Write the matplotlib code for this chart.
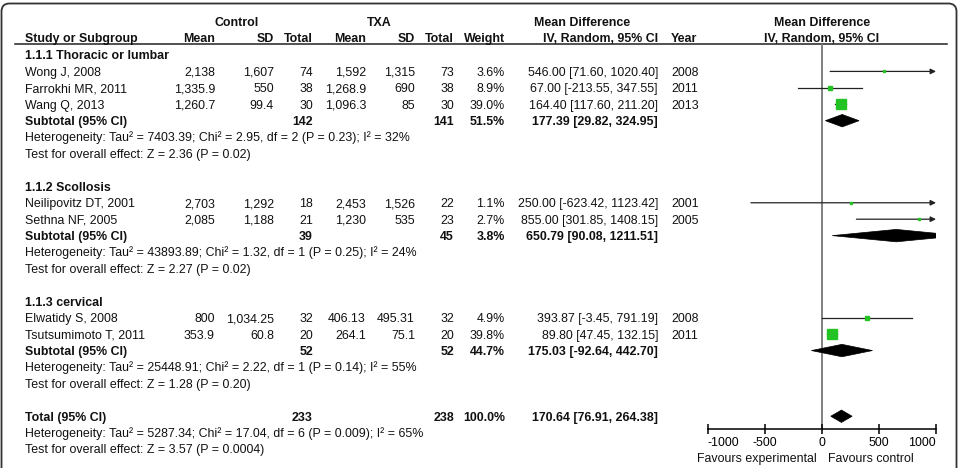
import numpy as np
import matplotlib
matplotlib.use("Agg")
import matplotlib.pyplot as plt
from matplotlib.patches import FancyBboxPatch, Polygon

plt.rcParams['font.family'] = ['Liberation Sans', 'DejaVu Sans']
FS = 8.9

# study level data
group_names = ["1.1.1 Thoracic or lumbar", "1.1.2 Scollosis", "1.1.3 cervical"]
group_of = [0, 0, 0, 1, 1, 2, 2]
study_names = ["Wong J, 2008", "Farrokhi MR, 2011", "Wang Q, 2013",
               "Neilipovitz DT, 2001", "Sethna NF, 2005",
               "Elwatidy S, 2008", "Tsutsumimoto T, 2011"]
ctrl_mean = ["2,138", "1,335.9", "1,260.7", "2,703", "2,085", "800", "353.9"]
ctrl_sd = ["1,607", "550", "99.4", "1,292", "1,188", "1,034.25", "60.8"]
ctrl_n = [74, 38, 30, 18, 21, 32, 20]
txa_mean = ["1,592", "1,268.9", "1,096.3", "2,453", "1,230", "406.13", "264.1"]
txa_sd = ["1,315", "690", "85", "1,526", "535", "495.31", "75.1"]
txa_n = [73, 38, 30, 22, 23, 32, 20]
weight = [3.6, 8.9, 39.0, 1.1, 2.7, 4.9, 39.8]
md = [546.00, 67.00, 164.40, 250.00, 855.00, 393.87, 89.80]
ci_lo = [71.60, -213.55, 117.60, -623.42, 301.85, -3.45, 47.45]
ci_hi = [1020.40, 347.55, 211.20, 1123.42, 1408.15, 791.19, 132.15]
years = [2008, 2011, 2013, 2001, 2005, 2008, 2011]

# subgroup and overall data
sub_n_ctrl = [142, 39, 52]
sub_n_txa = [141, 45, 52]
sub_weight = [51.5, 3.8, 44.7]
sub_md = [177.39, 650.79, 175.03]
sub_lo = [29.82, 90.08, -92.64]
sub_hi = [324.95, 1211.51, 442.70]
sub_het = ["Heterogeneity: Tau\u00b2 = 7403.39; Chi\u00b2 = 2.95, df = 2 (P = 0.23); I\u00b2 = 32%",
           "Heterogeneity: Tau\u00b2 = 43893.89; Chi\u00b2 = 1.32, df = 1 (P = 0.25); I\u00b2 = 24%",
           "Heterogeneity: Tau\u00b2 = 25448.91; Chi\u00b2 = 2.22, df = 1 (P = 0.14); I\u00b2 = 55%"]
sub_z = ["Test for overall effect: Z = 2.36 (P = 0.02)",
         "Test for overall effect: Z = 2.27 (P = 0.02)",
         "Test for overall effect: Z = 1.28 (P = 0.20)"]
tot_n_ctrl, tot_n_txa, tot_weight = 233, 238, 100.0
tot_md, tot_lo, tot_hi = 170.64, 76.91, 264.38
tot_het = "Heterogeneity: Tau\u00b2 = 5287.34; Chi\u00b2 = 17.04, df = 6 (P = 0.009); I\u00b2 = 65%"
tot_z = "Test for overall effect: Z = 3.57 (P = 0.0004)"

xticks = [-1000, -500, 0, 500, 1000]

W, H = 959, 468
fig = plt.figure(figsize=(W / 100, H / 100), dpi=100)
ax = fig.add_axes([0, 0, 1, 1])
ax.set_xlim(0, W)
ax.set_ylim(H, 0)
ax.axis('off')

# forest axes: x -1000..1000 over px 708..936, y in pixel rows 44..429
px0, px1, py_top, py_bot = 708, 936, 44, 429
fx = fig.add_axes([px0 / W, 1 - py_bot / H, (px1 - px0) / W, (py_bot - py_top) / H])
fx.set_xlim(-1000, 1000)
fx.set_ylim(py_bot, py_top)
fx.patch.set_alpha(0)
for s in ['top', 'left', 'right']:
    fx.spines[s].set_visible(False)
fx.spines['bottom'].set_linewidth(1.1)
fx.set_yticks([])
fx.set_xticks(xticks)
fx.tick_params(axis='x', direction='inout', length=7, width=1.1, labelsize=FS, pad=2)
fx.set_xticklabels([str(t) for t in xticks])
tl = fx.get_xticklabels()
tl[0].set_ha('left')
tl[-1].set_ha('right')
fx.axvline(0, color='#808080', lw=1.4, zorder=1)

# frame
frame = FancyBboxPatch((1.5, 3.5), 955, 500, boxstyle="round,pad=0,rounding_size=8",
                       fill=False, ec='#333333', lw=1.3, transform=ax.transData, clip_on=False)
ax.add_patch(frame)

# column positions
x_study = 25
col_r = {'cm': 215, 'csd': 274, 'cn': 313, 'tm': 366, 'tsd': 415, 'tn': 454,
         'w': 505, 'ci': 658}
x_year = 671

def txt(x, y, s, ha='left', bold=False):
    # y is the row centre; put the baseline half a cap height below it
    ax.text(x, y + 4.4, s, ha=ha, va='baseline', fontsize=FS,
            fontweight='bold' if bold else 'normal', color='#111111')

# headers
txt(237, 22, "Control", ha='center', bold=True)
txt(379, 22, "TXA", ha='center', bold=True)
txt(582, 22, "Mean Difference", ha='center', bold=True)
txt(822, 22, "Mean Difference", ha='center', bold=True)
y_h = 38
txt(x_study, y_h, "Study or Subgroup", bold=True)
for k, lab in [('cm', 'Mean'), ('csd', 'SD'), ('cn', 'Total'),
               ('tm', 'Mean'), ('tsd', 'SD'), ('tn', 'Total'),
               ('w', 'Weight'), ('ci', 'IV, Random, 95% CI')]:
    txt(col_r[k], y_h, lab, ha='right', bold=True)
txt(x_year, y_h, "Year", bold=True)
txt(822, y_h, "IV, Random, 95% CI", ha='center', bold=True)
ax.plot([15, 947], [44, 44], color='#222222', lw=1.1)

y0, dy = 55, 16.42

def ci_str(m, lo, hi):
    return "%.2f [%.2f, %.2f]" % (m, lo, hi)

def diamond(m, lo, hi, y, h=6.2):
    fx.add_patch(Polygon([[lo, y], [m, y - h], [hi, y], [m, y + h]],
                         closed=True, fc='black', ec='black', lw=0.5, zorder=3))

row = 0
for g, gname in enumerate(group_names):
    txt(x_study, y0 + row * dy, gname, bold=True)
    row += 1
    for i in [j for j, gg in enumerate(group_of) if gg == g]:
        y = y0 + row * dy
        txt(x_study, y, study_names[i])
        txt(col_r['cm'], y, ctrl_mean[i], ha='right')
        txt(col_r['csd'], y, ctrl_sd[i], ha='right')
        txt(col_r['cn'], y, str(ctrl_n[i]), ha='right')
        txt(col_r['tm'], y, txa_mean[i], ha='right')
        txt(col_r['tsd'], y, txa_sd[i], ha='right')
        txt(col_r['tn'], y, str(txa_n[i]), ha='right')
        txt(col_r['w'], y, "%.1f%%" % weight[i], ha='right')
        txt(col_r['ci'], y, ci_str(md[i], ci_lo[i], ci_hi[i]), ha='right')
        txt(x_year, y, str(years[i]))
        # CI line, arrow if beyond axis
        if ci_hi[i] > 1000:
            fx.annotate("", xy=(1000, y), xytext=(ci_lo[i], y),
                        arrowprops=dict(arrowstyle='-|>', color='#222222', lw=0.9,
                                        mutation_scale=8, shrinkA=0, shrinkB=0),
                        annotation_clip=False)
        else:
            fx.plot([ci_lo[i], ci_hi[i]], [y, y], color='#222222', lw=0.9, zorder=2)
        fx.plot(md[i], y, marker='s', color='#22c322', mec='#22c322',
                ms=max(1.5, 1.1 * np.sqrt(weight[i])), zorder=4)
        row += 1
    y = y0 + row * dy
    txt(x_study, y, "Subtotal (95% CI)", bold=True)
    txt(col_r['cn'], y, str(sub_n_ctrl[g]), ha='right', bold=True)
    txt(col_r['tn'], y, str(sub_n_txa[g]), ha='right', bold=True)
    txt(col_r['w'], y, "%.1f%%" % sub_weight[g], ha='right', bold=True)
    txt(col_r['ci'], y, ci_str(sub_md[g], sub_lo[g], sub_hi[g]), ha='right', bold=True)
    diamond(sub_md[g], sub_lo[g], sub_hi[g], y)
    row += 1
    txt(x_study, y0 + row * dy, sub_het[g])
    row += 1
    txt(x_study, y0 + row * dy, sub_z[g])
    row += 2

y = y0 + row * dy
txt(x_study, y, "Total (95% CI)", bold=True)
txt(col_r['cn'], y, str(tot_n_ctrl), ha='right', bold=True)
txt(col_r['tn'], y, str(tot_n_txa), ha='right', bold=True)
txt(col_r['w'], y, "%.1f%%" % tot_weight, ha='right', bold=True)
txt(col_r['ci'], y, ci_str(tot_md, tot_lo, tot_hi), ha='right', bold=True)
diamond(tot_md, tot_lo, tot_hi, y)
row += 1
txt(x_study, y0 + row * dy, tot_het)
row += 1
txt(x_study, y0 + row * dy, tot_z)

txt(817, 458, "Favours experimental", ha='right')
txt(828, 458, "Favours control")

fig.savefig("out.png", dpi=100)
